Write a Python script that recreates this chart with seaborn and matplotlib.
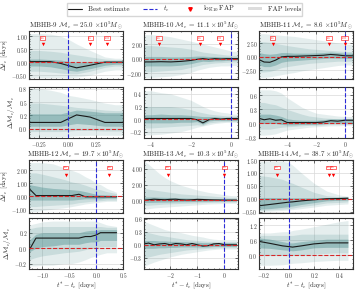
import matplotlib
matplotlib.use("Agg")
import matplotlib.pyplot as plt
import seaborn as sns
from matplotlib.lines import Line2D
from matplotlib.patches import Patch
from matplotlib.ticker import MultipleLocator, AutoMinorLocator, FuncFormatter

# ---------------- data ----------------
names = ["MBHB-9", "MBHB-10", "MBHB-11", "MBHB-12", "MBHB-13", "MBHB-14"]
chirp = [25.0, 11.1, 8.6, 19.7, 10.3, 38.7]

# MBHB-9
t9 = [-0.34, -0.25, -0.15, -0.06, 0.02, 0.08, 0.2, 0.33, 0.42, 0.49]
dt9 = [0.02, 0.02, 0.02, -0.05, -0.15, -0.22, -0.12, 0.0, 0.0, 0.0]
dt9_hi = [[1.1, 1.1, 1.08, 1.0, 0.85, 0.7, 0.45, 0.2, 0.15, 0.15],
          [0.45, 0.45, 0.42, 0.38, 0.32, 0.28, 0.2, 0.12, 0.1, 0.1],
          [0.12, 0.12, 0.1, 0.08, 0.02, -0.02, 0.02, 0.06, 0.05, 0.05]]
dt9_lo = [[-0.6, -0.6, -0.6, -0.6, -0.6, -0.58, -0.5, -0.35, -0.3, -0.3],
          [-0.35, -0.35, -0.38, -0.42, -0.45, -0.45, -0.35, -0.2, -0.15, -0.15],
          [-0.15, -0.15, -0.18, -0.25, -0.32, -0.35, -0.25, -0.12, -0.08, -0.08]]
dm9 = [0.12, 0.12, 0.12, 0.12, 0.2, 0.26, 0.22, 0.12, 0.12, 0.12]
dm9_hi = [[0.75, 0.75, 0.72, 0.68, 0.62, 0.6, 0.55, 0.48, 0.45, 0.45],
          [0.48, 0.48, 0.46, 0.44, 0.42, 0.4, 0.38, 0.35, 0.34, 0.34],
          [0.28, 0.28, 0.28, 0.28, 0.32, 0.35, 0.33, 0.3, 0.3, 0.3]]
dm9_lo = [[-0.15, -0.15, -0.15, -0.15, -0.14, -0.13, -0.12, -0.12, -0.12, -0.12],
          [-0.05, -0.05, -0.05, -0.05, -0.04, -0.03, -0.03, -0.04, -0.04, -0.04],
          [0.05, 0.05, 0.05, 0.05, 0.08, 0.1, 0.08, 0.05, 0.05, 0.05]]
fap9 = [-0.22, 0.2, 0.35]
fap9_txt = ["-16", "-16", "-100"]

# MBHB-10
t10 = [-4.35, -4.0, -3.5, -3.0, -2.5, -2.0, -1.7, -1.4, -1.1, -0.8, -0.5, -0.2, 0.1, 0.36]
dt10 = [-0.45, -0.45, -0.42, -0.45, -0.38, -0.25, -0.1, 0.0, -0.1, 0.0, -0.05, 0.0, 0.0, 0.0]
dt10_hi = [[3.3, 3.3, 3.2, 3.0, 2.7, 2.4, 2.2, 2.0, 1.8, 1.6, 1.4, 1.2, 1.0, 1.0],
           [1.8, 1.8, 1.7, 1.6, 1.5, 1.3, 1.1, 0.9, 0.8, 0.7, 0.6, 0.5, 0.45, 0.45],
           [0.3, 0.3, 0.3, 0.25, 0.25, 0.3, 0.35, 0.35, 0.3, 0.3, 0.25, 0.25, 0.2, 0.2]]
dt10_lo = [[-2.6, -2.6, -2.5, -2.4, -2.2, -1.9, -1.6, -1.4, -1.2, -1.1, -1.0, -1.0, -0.95, -0.95],
           [-1.8, -1.8, -1.7, -1.6, -1.5, -1.2, -1.0, -0.8, -0.7, -0.6, -0.55, -0.5, -0.45, -0.45],
           [-1.0, -1.0, -1.0, -1.0, -0.9, -0.7, -0.5, -0.35, -0.4, -0.3, -0.3, -0.25, -0.2, -0.2]]
dm10 = [0.01, 0.01, 0.01, 0.01, 0.01, 0.01, -0.01, -0.06, -0.01, 0.01, 0.0, 0.01, 0.01, 0.01]
dm10_hi = [[0.45, 0.45, 0.42, 0.4, 0.35, 0.3, 0.25, 0.2, 0.16, 0.13, 0.11, 0.1, 0.08, 0.08],
           [0.2, 0.2, 0.2, 0.2, 0.18, 0.15, 0.12, 0.1, 0.08, 0.07, 0.06, 0.05, 0.05, 0.05],
           [0.07, 0.07, 0.08, 0.07, 0.07, 0.06, 0.05, 0.04, 0.04, 0.04, 0.03, 0.03, 0.03, 0.03]]
dm10_lo = [[-0.25, -0.25, -0.24, -0.22, -0.2, -0.16, -0.13, -0.11, -0.09, -0.07, -0.06, -0.05, -0.05, -0.05],
           [-0.14, -0.14, -0.13, -0.12, -0.11, -0.1, -0.09, -0.1, -0.06, -0.05, -0.04, -0.04, -0.04, -0.04],
           [-0.06, -0.06, -0.06, -0.06, -0.05, -0.05, -0.04, -0.08, -0.03, -0.02, -0.02, -0.02, -0.02, -0.02]]
fap10 = [-3.6, -1.54, -0.55]
fap10_txt = ["-16", "-16", "-100"]

# MBHB-11
t11 = [-5.95, -5.6, -5.2, -4.8, -4.4, -4.0, -3.5, -3.0, -2.5, -2.0, -1.5, -1.0, -0.5, 0.0, 0.55]
dt11 = [-0.5, -0.95, -1.0, -0.6, 0.0, 0.1, 0.1, 0.15, 0.2, 0.25, 0.3, 0.45, 0.35, 0.2, 0.2]
dt11_hi = [[4.3, 4.3, 4.2, 4.1, 4.0, 3.9, 3.8, 3.6, 3.4, 3.2, 3.0, 2.8, 2.6, 2.4, 2.3],
           [2.8, 2.8, 2.7, 2.5, 2.3, 2.1, 1.9, 1.7, 1.5, 1.4, 1.3, 1.2, 1.1, 1.0, 1.0],
           [0.8, 0.6, 0.5, 0.6, 0.8, 0.8, 0.7, 0.7, 0.7, 0.75, 0.8, 0.9, 0.8, 0.7, 0.7]]
dt11_lo = [[-3.8, -3.8, -3.7, -3.5, -3.3, -3.1, -2.9, -2.6, -2.4, -2.2, -2.0, -1.8, -1.6, -1.5, -1.5],
           [-2.8, -2.8, -2.7, -2.4, -2.0, -1.8, -1.6, -1.4, -1.2, -1.1, -1.0, -0.9, -0.8, -0.8, -0.8],
           [-1.5, -1.8, -1.8, -1.5, -1.0, -0.8, -0.7, -0.6, -0.5, -0.4, -0.3, -0.2, -0.25, -0.3, -0.3]]
dm11 = [0.11, 0.08, 0.1, 0.07, 0.08, 0.02, 0.02, 0.02, 0.02, 0.02, 0.03, 0.06, 0.05, 0.07, 0.07]
dm11_hi = [[0.72, 0.72, 0.72, 0.7, 0.65, 0.55, 0.45, 0.35, 0.28, 0.22, 0.2, 0.18, 0.16, 0.15, 0.15],
           [0.45, 0.45, 0.42, 0.4, 0.35, 0.3, 0.25, 0.2, 0.16, 0.14, 0.12, 0.11, 0.1, 0.1, 0.1],
           [0.2, 0.2, 0.2, 0.18, 0.15, 0.1, 0.08, 0.07, 0.07, 0.07, 0.08, 0.1, 0.1, 0.1, 0.1]]
dm11_lo = [[-0.25, -0.25, -0.24, -0.22, -0.18, -0.14, -0.12, -0.1, -0.08, -0.07, -0.06, -0.05, -0.05, -0.04, -0.04],
           [-0.12, -0.12, -0.12, -0.1, -0.08, -0.07, -0.06, -0.05, -0.04, -0.04, -0.03, -0.02, -0.02, -0.02, -0.02],
           [0.0, 0.0, 0.0, 0.0, -0.02, -0.03, -0.03, -0.02, -0.02, -0.02, -0.01, 0.01, 0.01, 0.02, 0.02]]
fap11 = [-5.0, -1.1, -0.02]
fap11_txt = ["-16", "-16", "-100"]

# MBHB-12
t12 = [-1.25, -1.12, -1.0, -0.8, -0.6, -0.45, -0.32, -0.2, -0.1, 0.0, 0.08, 0.2, 0.38]
dt12 = [0.6, 0.05, 0.05, 0.05, 0.05, 0.05, 0.15, -0.05, -0.05, -0.05, -0.05, -0.05, -0.05]
dt12_hi = [[2.6, 2.6, 2.6, 2.5, 2.2, 2.0, 1.8, 1.5, 1.3, 1.0, 0.9, 0.6, 0.3],
           [1.8, 1.8, 1.7, 1.5, 1.3, 1.1, 1.0, 0.85, 0.7, 0.55, 0.5, 0.35, 0.2],
           [0.9, 0.8, 0.7, 0.6, 0.55, 0.5, 0.45, 0.35, 0.25, 0.15, 0.12, 0.1, 0.05]]
dt12_lo = [[-1.2, -1.2, -1.1, -1.0, -0.9, -0.8, -0.7, -0.6, -0.55, -0.5, -0.45, -0.4, -0.4],
           [-0.8, -0.8, -0.75, -0.7, -0.65, -0.6, -0.5, -0.45, -0.4, -0.35, -0.35, -0.3, -0.3],
           [-0.3, -0.3, -0.3, -0.3, -0.3, -0.3, -0.25, -0.2, -0.2, -0.2, -0.2, -0.15, -0.15]]
dm12 = [-0.03, 0.13, 0.13, 0.13, 0.13, 0.13, 0.13, 0.15, 0.15, 0.17, 0.2, 0.2, 0.2]
dm12_hi = [[0.3, 0.32, 0.34, 0.35, 0.35, 0.35, 0.35, 0.35, 0.35, 0.35, 0.33, 0.3, 0.28],
           [0.25, 0.27, 0.28, 0.28, 0.28, 0.28, 0.28, 0.28, 0.28, 0.28, 0.28, 0.27, 0.27],
           [0.1, 0.18, 0.2, 0.2, 0.2, 0.2, 0.2, 0.22, 0.23, 0.23, 0.24, 0.24, 0.24]]
dm12_lo = [[-0.23, -0.23, -0.22, -0.22, -0.2, -0.2, -0.18, -0.15, -0.12, -0.1, -0.08, -0.06, -0.06],
           [-0.15, -0.12, -0.1, -0.08, -0.06, -0.05, -0.04, -0.02, 0.0, 0.0, 0.02, 0.02, 0.02],
           [-0.05, 0.0, 0.02, 0.03, 0.05, 0.05, 0.05, 0.07, 0.08, 0.08, 0.1, 0.1, 0.1]]
fap12 = [-0.57, 0.245]
fap12_txt = ["-16", "-16"]

# MBHB-13
t13 = [-2.97, -2.8, -2.6, -2.4, -2.2, -2.0, -1.8, -1.6, -1.4, -1.2, -1.0, -0.8, -0.6, -0.4, -0.2, 0.0, 0.2, 0.45]
dt13 = [0.0, 0.05, 0.12, 0.08, 0.05, 0.1, 0.12, 0.05, 0.02, 0.05, 0.1, 0.08, 0.05, 0.03, 0.02, 0.0, 0.0, 0.0]
dt13_hi = [[5.0, 4.6, 4.0, 3.4, 2.9, 2.5, 2.2, 1.9, 1.7, 1.5, 1.3, 1.15, 1.0, 0.9, 0.8, 0.7, 0.6, 0.55],
           [1.5, 1.4, 1.3, 1.2, 1.1, 1.0, 0.9, 0.8, 0.75, 0.7, 0.65, 0.6, 0.55, 0.5, 0.45, 0.4, 0.35, 0.35],
           [0.4, 0.4, 0.4, 0.38, 0.36, 0.35, 0.33, 0.3, 0.28, 0.26, 0.25, 0.24, 0.22, 0.2, 0.2, 0.18, 0.18, 0.18]]
dt13_lo = [[-1.2, -1.1, -1.0, -0.95, -0.9, -0.85, -0.8, -0.75, -0.7, -0.65, -0.6, -0.55, -0.5, -0.48, -0.45, -0.42, -0.4, -0.4],
           [-0.7, -0.65, -0.6, -0.55, -0.5, -0.48, -0.45, -0.42, -0.4, -0.38, -0.35, -0.32, -0.3, -0.28, -0.26, -0.25, -0.25, -0.25],
           [-0.3, -0.3, -0.28, -0.26, -0.25, -0.24, -0.22, -0.2, -0.2, -0.18, -0.16, -0.15, -0.14, -0.13, -0.12, -0.12, -0.12, -0.12]]
dm13 = [0.02, 0.04, 0.0, 0.02, 0.03, 0.0, 0.03, 0.02, 0.0, 0.03, 0.0, -0.03, -0.02, 0.02, 0.03, 0.0, 0.0, 0.0]
dm13_hi = [[0.55, 0.5, 0.45, 0.4, 0.35, 0.32, 0.3, 0.28, 0.25, 0.22, 0.2, 0.18, 0.15, 0.13, 0.12, 0.12, 0.12, 0.12],
           [0.3, 0.28, 0.25, 0.22, 0.2, 0.18, 0.16, 0.14, 0.12, 0.11, 0.1, 0.09, 0.08, 0.08, 0.07, 0.07, 0.07, 0.07],
           [0.1, 0.1, 0.1, 0.09, 0.09, 0.08, 0.08, 0.07, 0.07, 0.06, 0.06, 0.05, 0.05, 0.05, 0.05, 0.05, 0.05, 0.05]]
dm13_lo = [[-0.5, -0.45, -0.4, -0.36, -0.32, -0.28, -0.25, -0.22, -0.2, -0.18, -0.16, -0.14, -0.12, -0.11, -0.1, -0.1, -0.1, -0.1],
           [-0.3, -0.28, -0.25, -0.22, -0.2, -0.18, -0.16, -0.14, -0.12, -0.11, -0.1, -0.09, -0.08, -0.08, -0.07, -0.07, -0.07, -0.07],
           [-0.08, -0.08, -0.08, -0.07, -0.07, -0.06, -0.06, -0.05, -0.05, -0.05, -0.05, -0.05, -0.05, -0.04, -0.04, -0.04, -0.04, -0.04]]
fap13 = [-2.1, 0.0]
fap13_txt = ["-16", "-16"]

# MBHB-14
t14 = [-0.237, -0.15, -0.05, 0.0, 0.03, 0.1, 0.2, 0.3, 0.4, 0.47]
dt14 = [-0.27, -0.22, -0.16, -0.13, -0.12, -0.08, -0.04, 0.0, 0.01, 0.02]
dt14_hi = [[1.45, 1.45, 1.45, 1.4, 1.3, 1.0, 0.6, 0.3, 0.15, 0.1],
           [0.9, 0.85, 0.75, 0.65, 0.6, 0.45, 0.25, 0.12, 0.08, 0.08],
           [0.05, 0.05, 0.05, 0.04, 0.04, 0.04, 0.04, 0.05, 0.06, 0.08]]
dt14_lo = [[-0.5, -0.48, -0.45, -0.43, -0.42, -0.38, -0.32, -0.25, -0.22, -0.2],
           [-0.45, -0.43, -0.4, -0.38, -0.36, -0.3, -0.24, -0.16, -0.14, -0.12],
           [-0.4, -0.38, -0.33, -0.3, -0.28, -0.22, -0.15, -0.08, -0.06, -0.05]]
dm14 = [0.56, 0.48, 0.38, 0.35, 0.33, 0.38, 0.46, 0.5, 0.5, 0.5]
dm14_hi = [[0.9, 0.9, 0.95, 0.95, 1.0, 1.05, 1.15, 1.25, 1.35, 1.4],
           [0.8, 0.8, 0.8, 0.8, 0.8, 0.85, 0.85, 0.85, 0.85, 0.85],
           [0.7, 0.65, 0.55, 0.5, 0.5, 0.55, 0.6, 0.65, 0.65, 0.65]]
dm14_lo = [[-0.4, -0.4, -0.38, -0.35, -0.32, -0.3, -0.25, -0.22, -0.2, -0.2],
           [0.0, 0.0, 0.0, 0.0, 0.0, 0.02, 0.05, 0.08, 0.1, 0.1],
           [0.3, 0.28, 0.22, 0.2, 0.18, 0.22, 0.3, 0.32, 0.32, 0.32]]
fap14 = [-0.095, 0.32, 0.35]
fap14_txt = ["-16", "-16", "-16"]

# axis ranges / tick steps per event
xlims = [(-0.34, 0.49), (-4.35, 0.36), (-5.95, 0.55), (-1.25, 0.5), (-2.97, 0.5), (-0.237, 0.51)]
xsteps = [0.25, 2, 2, 0.5, 1, 0.2]
xdec = [2, 0, 0, 1, 0, 1]
dt_lims = [(-0.65, 1.2), (-2.8, 3.8), (-4.1, 4.8), (-1.3, 2.8), (-1.65, 5.15), (-0.55, 1.5)]
dt_steps = [0.5, 2, 2.5, 1, 2, 0.5]
dm_lims = [(-0.17, 0.78), (-0.3, 0.51), (-0.31, 0.78), (-0.27, 0.39), (-0.56, 0.62), (-0.55, 1.5)]
dm_steps = [0.25, 0.2, 0.3, 0.2, 0.3, 0.6]

ts = [t9, t10, t11, t12, t13, t14]
dts = [dt9, dt10, dt11, dt12, dt13, dt14]
dt_his = [dt9_hi, dt10_hi, dt11_hi, dt12_hi, dt13_hi, dt14_hi]
dt_los = [dt9_lo, dt10_lo, dt11_lo, dt12_lo, dt13_lo, dt14_lo]
dms = [dm9, dm10, dm11, dm12, dm13, dm14]
dm_his = [dm9_hi, dm10_hi, dm11_hi, dm12_hi, dm13_hi, dm14_hi]
dm_los = [dm9_lo, dm10_lo, dm11_lo, dm12_lo, dm13_lo, dm14_lo]
faps = [fap9, fap10, fap11, fap12, fap13, fap14]
fap_txts = [fap9_txt, fap10_txt, fap11_txt, fap12_txt, fap13_txt, fap14_txt]

# ---------------- style ----------------
sns.set_theme(style="ticks")
plt.rcParams.update({
    "font.family": "serif",
    "font.serif": ["cmr10", "DejaVu Serif"],
    "mathtext.fontset": "cm",
    "axes.formatter.use_mathtext": True,
    "axes.unicode_minus": False,
})

band_c = "#4a8c8c"
band_alpha = [0.14, 0.18, 0.4]
line_c = "#1a1a1a"
red = "#d62728"
blue = "#2b2bd9"

W, H = 357, 292
fig = plt.figure(figsize=(W / 100, H / 100), dpi=100)


def box(x, y, w, h):
    return [x / W, 1 - (y + h) / H, w / W, h / H]


col_x = [29, 144, 259]
top_rows = [(31, 48), (160, 53)]
bot_rows = [(87, 51), (218, 51)]


def fmt(nd):
    return FuncFormatter(lambda v, p: f"${v:.{nd}f}$".replace("-0.00", "0.00") if nd else f"${v:.0f}$")


def style(ax, xlim, xstep, xd, ylim, ystep, nd):
    ax.set_xlim(*xlim)
    ax.set_ylim(*ylim)
    ax.xaxis.set_major_locator(MultipleLocator(xstep))
    ax.yaxis.set_major_locator(MultipleLocator(ystep))
    ax.xaxis.set_minor_locator(AutoMinorLocator())
    ax.yaxis.set_minor_locator(AutoMinorLocator())
    ax.yaxis.set_major_formatter(fmt(nd))
    ax.xaxis.set_major_formatter(fmt(xd))
    ax.grid(True, color="#d9d9d9", lw=0.5)
    ax.set_axisbelow(True)
    ax.tick_params(which="both", direction="in", top=True, right=True, width=0.5,
                   labelsize=4.0, pad=1.2, colors="#333333")
    ax.tick_params(which="major", length=2)
    ax.tick_params(which="minor", length=1)
    for s in ax.spines.values():
        s.set_linewidth(0.8)
        s.set_color("#333333")


def draw(ax, t, best, lo, hi):
    for a, l, h in zip(band_alpha, lo, hi):
        ax.fill_between(t, l, h, color=band_c, alpha=a, linewidth=0)
    sns.lineplot(x=t, y=best, ax=ax, color=line_c, lw=0.8)
    ax.axhline(0, color=red, ls="--", lw=0.8, zorder=4)
    ax.axvline(0, color=blue, ls="--", lw=0.8, zorder=4)
    ax.set_xlabel("")
    ax.set_ylabel("")


for i, name in enumerate(names):
    r, c = divmod(i, 3)
    x0 = col_x[c]
    ax_t = fig.add_axes(box(x0, top_rows[r][0], 94, top_rows[r][1]))
    ax_b = fig.add_axes(box(x0, bot_rows[r][0], 94, bot_rows[r][1]))

    draw(ax_t, ts[i], dts[i], dt_los[i], dt_his[i])
    draw(ax_b, ts[i], dms[i], dm_los[i], dm_his[i])
    style(ax_t, xlims[i], xsteps[i], xdec[i], dt_lims[i], dt_steps[i], 2)
    style(ax_b, xlims[i], xsteps[i], xdec[i], dm_lims[i], dm_steps[i], 1)
    ax_t.tick_params(labelbottom=False)

    # FAP markers with their labels
    tr = ax_t.get_xaxis_transform()
    ax_t.scatter(faps[i], [0.72] * len(faps[i]), transform=tr, marker="v",
                 color="red", s=6, lw=0, zorder=6)
    for fx, s in zip(faps[i], fap_txts[i]):
        ax_t.text(fx, 0.86, s, transform=tr, fontsize=2.0, color="red",
                  ha="center", va="center", zorder=7,
                  bbox=dict(boxstyle="square,pad=0.3", fc="white", ec="red", lw=0.4))

    ax_t.set_title(f"{name} $\\mathcal{{M}}_c$ = {chirp[i]:.1f} $\\times 10^5 M_\\odot$",
                   fontsize=5.0, pad=1.5)
    if c == 0:
        ax_t.set_ylabel("$\\Delta t_c$ [days]", fontsize=5.0, labelpad=1)
        ax_b.set_ylabel("$\\Delta\\mathcal{M}_c/\\mathcal{M}_c$", fontsize=5.0, labelpad=1)
    if r == 1:
        ax_b.set_xlabel("$t^{*} - t_c$ [days]", fontsize=5.0, labelpad=0.3)

handles = [Line2D([], [], color=line_c, lw=0.8),
           Line2D([], [], color=blue, ls="--", lw=0.8),
           Line2D([], [], color="red", marker="v", ls="", ms=2.5),
           Patch(facecolor="#dcdcdc", edgecolor="none")]
labels = ["Best estimate", "$t_c$", "$\\log_{10}$FAP", "FAP levels"]
fig.legend(handles, labels, ncol=4, loc="upper center", bbox_to_anchor=(0.517, 1.003),
           fontsize=5.0, frameon=True, fancybox=False, edgecolor="#cccccc",
           handlelength=2.0, handleheight=0.5, handletextpad=0.8, columnspacing=2.0,
           borderpad=0.2)

fig.savefig("out.png", dpi=100)
